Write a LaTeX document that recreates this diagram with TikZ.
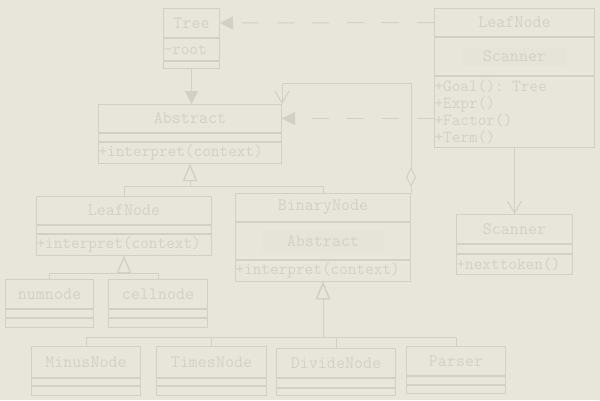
\documentclass[tikz,border=0pt]{standalone}
\usepackage{fontspec}
\usetikzlibrary{positioning,arrows.meta}
\definecolor{umlbg}{HTML}{E8E5DA}
\definecolor{umlline}{HTML}{D3CFC2}
\definecolor{umltext}{HTML}{D4D0C4}
\definecolor{umlinner}{HTML}{E6E3D8}
\newcommand{\umltitle}{\ttfamily\fontsize{17.5}{18}\selectfont}
\newcommand{\umlops}{\ttfamily\fontsize{16.8}{17}\selectfont}
\tikzset{
    box/.style={draw=umlline,line width=1pt,fill=umlbg,text=umltext,inner xsep=0pt,inner ysep=0pt,minimum width=#1},
    head/.style={box=#1,font=\umltitle,anchor=north west},
    part/.style={box=#1,font=\umlops},
    ops/.style={box=#1,font=\umlops,text width=#1,align=left},
    inbox/.style={fill=umlinner,text=umltext,font=\umltitle,inner sep=0pt},
    wire/.style={draw=umlline,line width=1pt},
    gen/.style={wire,-{Triangle[open,length=17pt,width=14pt]}},
    nav/.style={wire,-{Triangle[length=13pt,width=13pt]}},
    real/.style={wire,dash pattern=on 17pt off 18pt,-{Triangle[length=13pt,width=13pt]}},
    dep/.style={wire,-{Straight Barb[length=12pt,width=14pt]}},
    agg/.style={wire,{Diamond[open,length=20pt,width=10pt]}-{Straight Barb[length=12pt,width=14pt]}},
}
\begin{document}
\begin{tikzpicture}[x=1pt,y=-1pt]
    \fill[umlbg] (0,0) rectangle (600,400);
    \useasboundingbox (0,0) rectangle (600,400);

    % Tree
    \node[head=56pt,minimum height=29pt] (treeT) at (163,8) {Tree};
    \node[ops=56pt,minimum height=22pt,below=0pt of treeT] (treeA) {-root};
    \node[part=56pt,minimum height=7pt,below=0pt of treeA] (treeO) {};

    % Abstract
    \node[head=183pt,minimum height=28pt] (absT) at (98,104) {Abstract};
    \node[part=183pt,minimum height=8pt,below=0pt of absT] (absA) {};
    \node[ops=183pt,minimum height=21pt,below=0pt of absA] (absO) {+interpret(context)};

    % LeafNode with Scanner
    \node[head=160pt,minimum height=28pt] (lsT) at (434,8) {LeafNode};
    \node[part=160pt,minimum height=38pt,below=0pt of lsT] (lsM) {};
    \node[inbox,minimum width=105pt,minimum height=18pt] (lsIn) at (lsM) {Scanner};
    \node[ops=160pt,minimum height=71pt,below=0pt of lsM] (lsO) {+Goal(): Tree\\+Expr()\\+Factor()\\+Term()};

    % Scanner
    \node[head=116pt,minimum height=29pt] (scanT) at (456,214) {Scanner};
    \node[part=116pt,minimum height=9pt,below=0pt of scanT] (scanA) {};
    \node[ops=116pt,minimum height=20pt,below=0pt of scanA] (scanO) {+nexttoken()};

    % LeafNode
    \node[head=175pt,minimum height=28pt] (leafT) at (36,196) {LeafNode};
    \node[part=175pt,minimum height=8pt,below=0pt of leafT] (leafA) {};
    \node[ops=175pt,minimum height=21pt,below=0pt of leafA] (leafO) {+interpret(context)};

    % BinaryNode
    \node[head=175pt,minimum height=28pt] (binT) at (235,193) {BinaryNode};
    \node[part=175pt,minimum height=37pt,below=0pt of binT] (binM) {};
    \node[inbox,minimum width=122pt,minimum height=22pt] (binIn) at (binM) {Abstract};
    \node[ops=175pt,minimum height=21pt,below=0pt of binM] (binO) {+interpret(context)};

    % numnode, cellnode
    \node[head=88pt,minimum height=29pt] (numT) at (5,279) {numnode};
    \node[part=88pt,minimum height=8pt,below=0pt of numT] (numA) {};
    \node[part=88pt,minimum height=9pt,below=0pt of numA] (numO) {};
    \node[head=99pt,minimum height=29pt] (cellT) at (108,279) {cellnode};
    \node[part=99pt,minimum height=8pt,below=0pt of cellT] (cellA) {};
    \node[part=99pt,minimum height=9pt,below=0pt of cellA] (cellO) {};

    % bottom row
    \node[head=109pt,minimum height=31pt] (minusT) at (31,346) {MinusNode};
    \node[part=109pt,minimum height=7pt,below=0pt of minusT] (minusA) {};
    \node[part=109pt,minimum height=9pt,below=0pt of minusA] (minusO) {};
    \node[head=110pt,minimum height=31pt] (timesT) at (156,346) {TimesNode};
    \node[part=110pt,minimum height=7pt,below=0pt of timesT] (timesA) {};
    \node[part=110pt,minimum height=9pt,below=0pt of timesA] (timesO) {};
    \node[head=119pt,minimum height=29pt] (divT) at (276,348) {DivideNode};
    \node[part=119pt,minimum height=9pt,below=0pt of divT] (divA) {};
    \node[part=119pt,minimum height=7pt,below=0pt of divA] (divO) {};
    \node[head=99pt,minimum height=29pt] (parT) at (406,346) {Parser};
    \node[part=99pt,minimum height=8pt,below=0pt of parT] (parA) {};
    \node[part=99pt,minimum height=8pt,below=0pt of parA] (parO) {};

    % connectors
    \draw[nav] (treeO.south) -- (treeO.south |- absT.north);
    \draw[real] (lsT.west) -- (treeT.east);
    \draw[real] (lsO.west |- absT.east) -- (absT.east);
    \draw[dep] (lsO.south) -- (scanT.north);
    \draw[wire] (binT.north east) -- ++(0,-6) coordinate (aggS);
    \draw[agg] (aggS) -- ++(0,-104) -| (absT.north east);

    \draw[gen] (leafT.north) -- ++(0,-10) -| (absO.south);
    \draw[gen] (binT.north) -- ++(0,-7) -| (absO.south);
    \draw[gen] (numT.north) -- ++(0,-6) -| (leafO.south);
    \draw[gen] (cellT.north) -- ++(0,-6) -| (leafO.south);
    \draw[gen] (minusT.north) -- ++(0,-9) -| (binO.south);
    \draw[gen] (timesT.north) -- ++(0,-9) -| (binO.south);
    \draw[gen] (divT.north) -- ++(0,-11) -| (binO.south);
    \draw[gen] (parT.north) -- ++(0,-9) -| (binO.south);
\end{tikzpicture}
\end{document}
